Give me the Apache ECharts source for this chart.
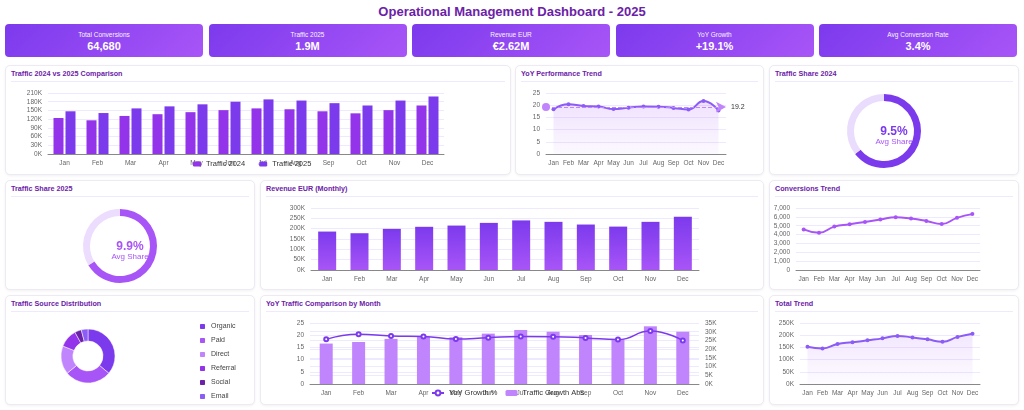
<!DOCTYPE html>
<html lang="en">
<head>
    <meta charset="UTF-8">
    <title>Operational Management Dashboard - 2025</title>
    <style>
        body {
            margin: 0px;
            padding: 0px;
            background: #ffffff;
            font-family: "Liberation Sans", Arial, sans-serif;
        }

        #page {
            position: relative;
            width: 1024px;
            height: 410px;
            overflow: hidden;
        }

        #mainTitle {
            position: absolute;
            left: 0;
            top: 4px;
            width: 1024px;
            text-align: center;
            font-size: 13px;
            font-weight: bold;
            color: #6b21a8;
        }

        .kpi {
            position: absolute;
            top: 24px;
            width: 198px;
            height: 33px;
            border-radius: 4px;
            background: linear-gradient(135deg, #7c3aed 0%, #a855f7 100%);
            color: #ffffff;
            text-align: center;
        }

        .kpi .lbl {
            font-size: 6.5px;
            margin-top: 7px;
            opacity: 0.95;
        }

        .kpi .val {
            font-size: 11px;
            font-weight: bold;
            margin-top: 2px;
        }

        .panel {
            position: absolute;
            background: #ffffff;
            border: 1px solid #eeeaf3;
            border-radius: 5px;
            box-shadow: 0 1px 3px rgba(0, 0, 0, 0.06);
        }

        .panel .ttl {
            position: absolute;
            left: 5px;
            right: 5px;
            top: 3px;
            height: 10px;
            padding-bottom: 2px;
            border-bottom: 1px solid #ede9fe;
            font-size: 7.2px;
            font-weight: bold;
            color: #6b21a8;
        }

        .panel .chart {
            position: absolute;
            left: 0;
            top: 0;
            right: 0;
            bottom: 0;
        }
    </style>
</head>

<body>
    <div id="page">
        <div id="mainTitle">Operational Management Dashboard - 2025</div>
        <div id="kpis"></div>

        <div class="panel" style="left:5px;top:65px;width:504px;height:108px;">
            <div class="ttl">Traffic 2024 vs 2025 Comparison</div>
            <div class="chart" id="c1"></div>
        </div>
        <div class="panel" style="left:515px;top:65px;width:247px;height:108px;">
            <div class="ttl">YoY Performance Trend</div>
            <div class="chart" id="c2"></div>
        </div>
        <div class="panel" style="left:769px;top:65px;width:248px;height:108px;">
            <div class="ttl">Traffic Share 2024</div>
            <div class="chart" id="c3"></div>
        </div>

        <div class="panel" style="left:5px;top:180px;width:248px;height:108px;">
            <div class="ttl">Traffic Share 2025</div>
            <div class="chart" id="c4"></div>
        </div>
        <div class="panel" style="left:260px;top:180px;width:502px;height:108px;">
            <div class="ttl">Revenue EUR (Monthly)</div>
            <div class="chart" id="c5"></div>
        </div>
        <div class="panel" style="left:769px;top:180px;width:248px;height:108px;">
            <div class="ttl">Conversions Trend</div>
            <div class="chart" id="c6"></div>
        </div>

        <div class="panel" style="left:5px;top:295px;width:248px;height:108px;">
            <div class="ttl">Traffic Source Distribution</div>
            <div class="chart" id="c7"></div>
        </div>
        <div class="panel" style="left:260px;top:295px;width:502px;height:108px;">
            <div class="ttl">YoY Traffic Comparison by Month</div>
            <div class="chart" id="c8"></div>
        </div>
        <div class="panel" style="left:769px;top:295px;width:248px;height:108px;">
            <div class="ttl">Total Trend</div>
            <div class="chart" id="c9"></div>
        </div>
    </div>

    <script src="https://cdn.jsdelivr.net/npm/echarts@6/dist/echarts.min.js"></script>
    <script>
        // data
        var kpiLabels = ['Total Conversions', 'Traffic 2025', 'Revenue EUR', 'YoY Growth', 'Avg Conversion Rate'];
        var kpiValues = ['64,680', '1.9M', '€2.62M', '+19.1%', '3.4%'];

        var months = ['Jan', 'Feb', 'Mar', 'Apr', 'May', 'Jun', 'Jul', 'Aug', 'Sep', 'Oct', 'Nov', 'Dec'];
        var traffic2024 = [124000, 116000, 131000, 137000, 144000, 151000, 157000, 154000, 147000, 140000, 151000, 167000];
        var traffic2025 = [147000, 141000, 157000, 164000, 171000, 180000, 188000, 184000, 175000, 167000, 184000, 198000];
        var yoyGrowth = [18.3, 20.4, 19.7, 19.5, 18.4, 19.0, 19.5, 19.4, 18.9, 18.2, 21.7, 17.8];
        var growthAbs = [23200, 24100, 25900, 27200, 26800, 28900, 31000, 30000, 28100, 25700, 33100, 30000];
        var revenue = [186000, 178000, 199000, 209000, 215000, 228000, 240000, 233000, 220000, 210000, 233000, 258000];
        var conversions = [4580, 4200, 4900, 5160, 5430, 5700, 5960, 5810, 5540, 5200, 5890, 6310];
        var totalTrend = [153000, 146000, 164000, 171000, 179000, 187000, 197000, 191000, 183000, 173000, 193000, 206000];

        var share2024 = [64.3, 35.7];
        var share2025 = [66.3, 33.7];
        var share2024Label = '9.5%';
        var share2025Label = '9.9%';

        var sourceNames = ['Organic', 'Paid', 'Direct', 'Referral', 'Social', 'Email'];
        var sourceValues = [36, 28, 17, 11, 4, 4];
        var sourceColors = ['#7c3aed', '#a855f7', '#c084fc', '#9333ea', '#6b21a8', '#8b5cf6'];

        // kpi cards
        var kpiBox = document.getElementById('kpis');
        for (var i = 0; i < kpiLabels.length; i++) {
            var d = document.createElement('div');
            d.className = 'kpi';
            d.style.left = (5 + i * 203.5) + 'px';
            d.innerHTML = '<div class="lbl">' + kpiLabels[i] + '</div><div class="val">' + kpiValues[i] + '</div>';
            kpiBox.appendChild(d);
        }

        var FONT = 'Liberation Sans, Arial, sans-serif';
        function kFmt(v) { return (v / 1000) + 'K'; }

        function catAxis() {
            return {
                type: 'category',
                data: months,
                axisLine: { lineStyle: { color: '#888' } },
                axisTick: { lineStyle: { color: '#888' } },
                axisLabel: { interval: 0, fontSize: 6.5, color: '#666', margin: 6, fontFamily: FONT }
            };
        }
        function valAxis(extra, fmt) {
            var a = {
                type: 'value',
                axisLine: { show: false },
                axisTick: { show: false },
                splitLine: { lineStyle: { color: '#ede9fe' } },
                axisLabel: { fontSize: 6.5, color: '#666', margin: 6, fontFamily: FONT }
            };
            if (fmt) a.axisLabel.formatter = fmt;
            for (var k in extra) a[k] = extra[k];
            return a;
        }
        function areaGrad(a1, a2) {
            return new echarts.graphic.LinearGradient(0, 0, 0, 1, [
                { offset: 0, color: 'rgba(168,85,247,' + a1 + ')' },
                { offset: 1, color: 'rgba(168,85,247,' + a2 + ')' }
            ]);
        }

        // 1. traffic comparison
        echarts.init(document.getElementById('c1')).setOption({
            animation: false,
            textStyle: { fontFamily: FONT },
            grid: { left: 42, right: 66, top: 27, bottom: 20 },
            legend: {
                left: 187, top: 94, padding: 0, itemWidth: 8, itemHeight: 5, itemGap: 14,
                textStyle: { fontSize: 7.5, color: '#333' },
                data: ['Traffic 2024', 'Traffic 2025']
            },
            xAxis: catAxis(),
            yAxis: valAxis({ min: 0, max: 210000, interval: 30000 }, kFmt),
            series: [
                { name: 'Traffic 2024', type: 'bar', data: traffic2024, barWidth: 10, barGap: '20%', itemStyle: { color: '#9333ea' } },
                { name: 'Traffic 2025', type: 'bar', data: traffic2025, barWidth: 10, itemStyle: { color: '#7c3aed' } }
            ]
        });

        // 2. yoy trend
        echarts.init(document.getElementById('c2')).setOption({
            animation: false,
            textStyle: { fontFamily: FONT },
            grid: { left: 30, right: 37, top: 27, bottom: 20 },
            xAxis: catAxis(),
            yAxis: valAxis({ min: 0, max: 25, interval: 5 }),
            series: [{
                type: 'line', smooth: true, data: yoyGrowth,
                symbol: 'circle', symbolSize: 4,
                lineStyle: { color: '#8b5cf6', width: 2 },
                itemStyle: { color: '#8b5cf6' },
                areaStyle: { color: areaGrad(0.25, 0.05) },
                markLine: {
                    symbol: ['circle', 'arrow'], symbolSize: [8, 10],
                    lineStyle: { color: '#c084fc', type: 'dashed', width: 1 },
                    itemStyle: { color: '#c084fc' },
                    label: { fontSize: 7, color: '#333', formatter: function (p) { return p.value.toFixed(1); } },
                    data: [{ type: 'average' }]
                }
            }]
        });

        // 3 & 4. share rings
        function ring(id, vals, dark, light, txt, txtColor) {
            echarts.init(document.getElementById(id)).setOption({
                animation: false,
                series: [{
                    type: 'pie', center: [114, 65], radius: [30, 37],
                    startAngle: 90, clockwise: true, silent: true,
                    label: { show: false }, labelLine: { show: false },
                    data: [
                        { value: vals[0], itemStyle: { color: dark } },
                        { value: vals[1], itemStyle: { color: light } }
                    ]
                }],
                graphic: [
                    { type: 'text', left: 'center', top: 60, style: { text: txt, font: 'bold 12px ' + FONT, fill: txtColor } },
                    { type: 'text', left: 'center', top: 72, style: { text: 'Avg Share', font: '8px ' + FONT, fill: '#a855f7' } }
                ]
            });
        }
        ring('c3', share2024, '#7c3aed', '#e9dcfd', share2024Label, '#7c3aed');
        ring('c4', share2025, '#a855f7', '#ecdcfe', share2025Label, '#a855f7');

        // 5. revenue
        echarts.init(document.getElementById('c5')).setOption({
            animation: false,
            textStyle: { fontFamily: FONT },
            grid: { left: 50, right: 64, top: 27, bottom: 19 },
            xAxis: catAxis(),
            yAxis: valAxis({ min: 0, max: 300000, interval: 50000 }, kFmt),
            series: [{
                type: 'bar', data: revenue, barWidth: 18,
                itemStyle: {
                    color: new echarts.graphic.LinearGradient(0, 0, 0, 1, [
                        { offset: 0, color: '#7c3aed' }, { offset: 1, color: '#a855f7' }
                    ])
                }
            }]
        });

        // 6. conversions
        echarts.init(document.getElementById('c6')).setOption({
            animation: false,
            textStyle: { fontFamily: FONT },
            grid: { left: 26, right: 38, top: 27, bottom: 19 },
            xAxis: catAxis(),
            yAxis: valAxis({ min: 0, max: 7000, interval: 1000 }, function (v) { return v.toLocaleString('en-US'); }),
            series: [{
                type: 'line', smooth: true, data: conversions,
                symbol: 'circle', symbolSize: 4,
                lineStyle: { color: '#a855f7', width: 2 },
                itemStyle: { color: '#a855f7' }
            }]
        });

        // 7. source distribution
        echarts.init(document.getElementById('c7')).setOption({
            animation: false,
            textStyle: { fontFamily: FONT },
            legend: {
                orient: 'vertical', left: 192, top: 26, bottom: 0, padding: 0,
                itemWidth: 7, itemHeight: 7, itemGap: 5,
                icon: 'roundRect',
                textStyle: { fontSize: 7, color: '#444' },
                data: sourceNames
            },
            series: [{
                type: 'pie', center: [82, 60], radius: [15, 27],
                startAngle: 90, clockwise: true,
                label: { show: false }, labelLine: { show: false },
                itemStyle: { borderColor: '#fff', borderWidth: 0.5 },
                data: sourceNames.map(function (n, i) {
                    return { name: n, value: sourceValues[i], itemStyle: { color: sourceColors[i] } };
                })
            }]
        });

        // 8. yoy traffic comparison
        echarts.init(document.getElementById('c8')).setOption({
            animation: false,
            textStyle: { fontFamily: FONT },
            grid: { left: 49, right: 64, top: 27, bottom: 20 },
            legend: {
                left: 170, top: 93, padding: 0, itemWidth: 12, itemHeight: 6, itemGap: 8,
                textStyle: { fontSize: 7.5, color: '#333' },
                data: ['YoY Growth %', 'Traffic Growth Abs']
            },
            xAxis: catAxis(),
            yAxis: [
                valAxis({ min: 0, max: 25, interval: 5 }),
                valAxis({ min: 0, max: 35000, interval: 5000, position: 'right' }, kFmt)
            ],
            series: [
                { name: 'Traffic Growth Abs', type: 'bar', yAxisIndex: 1, data: growthAbs, barWidth: 13, itemStyle: { color: '#c084fc' } },
                {
                    name: 'YoY Growth %', type: 'line', smooth: true, yAxisIndex: 0, data: yoyGrowth,
                    symbol: 'emptyCircle', symbolSize: 4,
                    lineStyle: { color: '#7c3aed', width: 1.5 },
                    itemStyle: { color: '#7c3aed' }
                }
            ]
        });

        // 9. total trend
        echarts.init(document.getElementById('c9')).setOption({
            animation: false,
            textStyle: { fontFamily: FONT },
            grid: { left: 30, right: 38, top: 27, bottom: 20 },
            xAxis: catAxis(),
            yAxis: valAxis({ min: 0, max: 250000, interval: 50000 }, kFmt),
            series: [{
                type: 'line', smooth: true, data: totalTrend,
                symbol: 'circle', symbolSize: 4,
                lineStyle: { color: '#8b5cf6', width: 2 },
                itemStyle: { color: '#8b5cf6' },
                areaStyle: { color: areaGrad(0.2, 0.03) }
            }]
        });
    </script>
</body>

</html>
